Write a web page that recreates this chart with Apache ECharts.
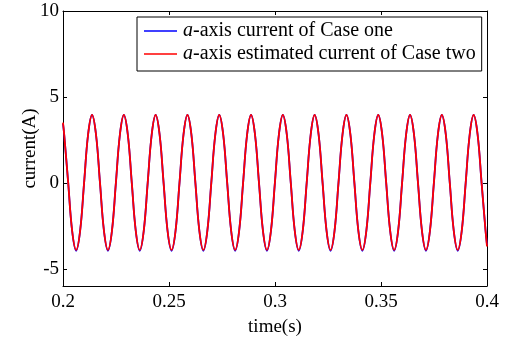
<!DOCTYPE html>
<html>
<head>
<meta charset="utf-8">
<script src="https://cdn.jsdelivr.net/npm/echarts@6/dist/echarts.min.js"></script>
<style>html,body{margin:0;padding:0;background:#fff}#c{width:505px;height:339px}</style>
</head>
<body>
<div id="c"></div>
<script>
// time samples (s) (peaks, quarter points, zero crossings, troughs)
var times = [
  0.2, 0.20057, 0.20245, 0.20432, 0.2062, 0.20807, 0.20995, 0.21182,
  0.2137, 0.21558, 0.21745, 0.21933, 0.2212, 0.22308, 0.22495, 0.22683,
  0.2287, 0.23058, 0.23245, 0.23433, 0.2362, 0.23808, 0.23995, 0.24183,
  0.2437, 0.24558, 0.24745, 0.24933, 0.2512, 0.25308, 0.25495, 0.25683,
  0.2587, 0.26058, 0.26245, 0.26433, 0.2662, 0.26808, 0.26995, 0.27183,
  0.2737, 0.27558, 0.27745, 0.27933, 0.2812, 0.28308, 0.28495, 0.28683,
  0.2887, 0.29058, 0.29245, 0.29433, 0.2962, 0.29808, 0.29995, 0.30183,
  0.3037, 0.30558, 0.30745, 0.30933, 0.3112, 0.31308, 0.31495, 0.31683,
  0.3187, 0.32058, 0.32245, 0.32433, 0.3262, 0.32808, 0.32995, 0.33183,
  0.3337, 0.33558, 0.33745, 0.33933, 0.3412, 0.34308, 0.34495, 0.34683,
  0.3487, 0.35058, 0.35245, 0.35433, 0.3562, 0.35808, 0.35995, 0.36183,
  0.3637, 0.36558, 0.36745, 0.36933, 0.3712, 0.37308, 0.37495, 0.37683,
  0.3787, 0.38058, 0.38245, 0.38433, 0.3862, 0.38808, 0.38995, 0.39183,
  0.3937, 0.39558, 0.39745, 0.39933, 0.4
];
// a-axis current of Case one (A)
var caseOne = [
  3.45, 2.8, 0.0, -2.8, -3.95, -2.8, 0.0, 2.8,
  3.95, 2.8, 0.0, -2.8, -3.95, -2.8, 0.0, 2.8,
  3.95, 2.8, 0.0, -2.8, -3.95, -2.8, 0.0, 2.8,
  3.95, 2.8, 0.0, -2.8, -3.95, -2.8, 0.0, 2.8,
  3.95, 2.8, 0.0, -2.8, -3.95, -2.8, 0.0, 2.8,
  3.95, 2.8, 0.0, -2.8, -3.95, -2.8, 0.0, 2.8,
  3.95, 2.8, 0.0, -2.8, -3.95, -2.8, 0.0, 2.8,
  3.95, 2.8, 0.0, -2.8, -3.95, -2.8, 0.0, 2.8,
  3.95, 2.8, 0.0, -2.8, -3.95, -2.8, 0.0, 2.8,
  3.95, 2.8, 0.0, -2.8, -3.95, -2.8, 0.0, 2.8,
  3.95, 2.8, 0.0, -2.8, -3.95, -2.8, 0.0, 2.8,
  3.95, 2.8, 0.0, -2.8, -3.95, -2.8, 0.0, 2.8,
  3.95, 2.8, 0.0, -2.8, -3.95, -2.8, 0.0, 2.8,
  3.95, 2.8, 0.0, -2.8, -3.6
];
// a-axis estimated current of Case two (A)
var caseTwo = [
  3.5, 2.8, 0.0, -2.8, -3.9, -2.8, 0.0, 2.8,
  3.95, 2.8, 0.0, -2.8, -3.9, -2.8, 0.0, 2.8,
  3.95, 2.8, 0.0, -2.8, -3.9, -2.8, 0.0, 2.8,
  3.95, 2.8, 0.0, -2.8, -3.9, -2.8, 0.0, 2.8,
  3.95, 2.8, 0.0, -2.8, -3.9, -2.8, 0.0, 2.8,
  3.95, 2.8, 0.0, -2.8, -3.9, -2.8, 0.0, 2.8,
  3.95, 2.8, 0.0, -2.8, -3.9, -2.8, 0.0, 2.8,
  3.95, 2.8, 0.0, -2.8, -3.9, -2.8, 0.0, 2.8,
  3.95, 2.8, 0.0, -2.8, -3.9, -2.8, 0.0, 2.8,
  3.95, 2.8, 0.0, -2.8, -3.9, -2.8, 0.0, 2.8,
  3.95, 2.8, 0.0, -2.8, -3.9, -2.8, 0.0, 2.8,
  3.95, 2.8, 0.0, -2.8, -3.9, -2.8, 0.0, 2.8,
  3.95, 2.8, 0.0, -2.8, -3.9, -2.8, 0.0, 2.8,
  3.95, 2.8, 0.0, -2.8, -3.7
];
var xTicks = [0.2, 0.25, 0.3, 0.35, 0.4];
var yTicks = [-5, 0, 5, 10];
var seriesNames = ['a-axis current of Case one', 'a-axis estimated current of Case two'];

function pairs(xs, ys) { return xs.map(function (x, i) { return [x, ys[i]]; }); }

var FONT = 'Liberation Serif';
var chart = echarts.init(document.getElementById('c'), null, { renderer: 'canvas' });
var axisLine = { show: true, onZero: false, lineStyle: { color: '#000', width: 1 } };
var tick = { show: true, inside: true, length: 4, lineStyle: { color: '#000', width: 1 } };
chart.setOption({
  animation: false,
  backgroundColor: '#fff',
  textStyle: { fontFamily: FONT, color: '#000' },
  grid: { left: 63, right: 18, top: 11, bottom: 53, containLabel: false, outerBoundsMode: 'none' },
  legend: {
    orient: 'vertical',
    left: 137, top: 17,
    padding: [3, 6, 6, 7],
    itemGap: 1,
    itemWidth: 33, itemHeight: 1.5,
    backgroundColor: '#fff',
    borderColor: '#000', borderWidth: 1,
    icon: 'rect',
    data: seriesNames,
    formatter: function (name) {
      return '{i|a}{n|' + name.slice(1) + '}';
    },
    textStyle: {
      fontFamily: FONT, fontSize: 20, color: '#000', padding: [0, 0, 0, 1], lineHeight: 22,
      rich: {
        i: { fontFamily: FONT, fontSize: 20, fontStyle: 'italic', color: '#000', lineHeight: 22 },
        n: { fontFamily: FONT, fontSize: 20, color: '#000', lineHeight: 22 }
      }
    }
  },
  xAxis: [{
    type: 'value', min: 0.2, max: 0.4, interval: 0.05,
    name: 'time(s)', nameLocation: 'middle', nameGap: 32, nameMoveOverlap: false,
    nameTextStyle: { fontFamily: FONT, fontSize: 19, color: '#000' },
    axisLine: axisLine, axisTick: tick,
    axisLabel: { fontFamily: FONT, fontSize: 19, color: '#000', margin: 7,
      customValues: xTicks, formatter: function (v) { return String(+v.toFixed(2)); } },
    splitLine: { show: false }
  }, {
    type: 'value', position: 'top', min: 0.2, max: 0.4, interval: 0.05,
    axisLine: axisLine, axisTick: tick, axisLabel: { show: false }, splitLine: { show: false }
  }],
  yAxis: [{
    type: 'value', min: -6, max: 10,
    name: 'current(A)', nameLocation: 'middle', nameGap: 23, nameMoveOverlap: false,
    nameTextStyle: { fontFamily: FONT, fontSize: 19, color: '#000' },
    axisLine: axisLine,
    axisTick: Object.assign({ customValues: yTicks }, tick),
    axisLabel: { fontFamily: FONT, fontSize: 19, color: '#000', margin: 4, customValues: yTicks },
    splitLine: { show: false }
  }, {
    type: 'value', position: 'right', min: -6, max: 10,
    axisLine: axisLine,
    axisTick: Object.assign({ customValues: yTicks }, tick),
    axisLabel: { show: false }, splitLine: { show: false }
  }],
  series: [{
    name: seriesNames[0], type: 'line', showSymbol: false, smooth: 0.4,
    data: pairs(times, caseOne),
    lineStyle: { color: '#0000ff', width: 1.8 }, itemStyle: { color: '#0000ff' }
  }, {
    name: seriesNames[1], type: 'line', showSymbol: false, smooth: 0.4,
    data: pairs(times, caseTwo),
    lineStyle: { color: '#ff0000', width: 1.8 }, itemStyle: { color: '#ff0000' }
  }]
});
</script>
</body>
</html>
